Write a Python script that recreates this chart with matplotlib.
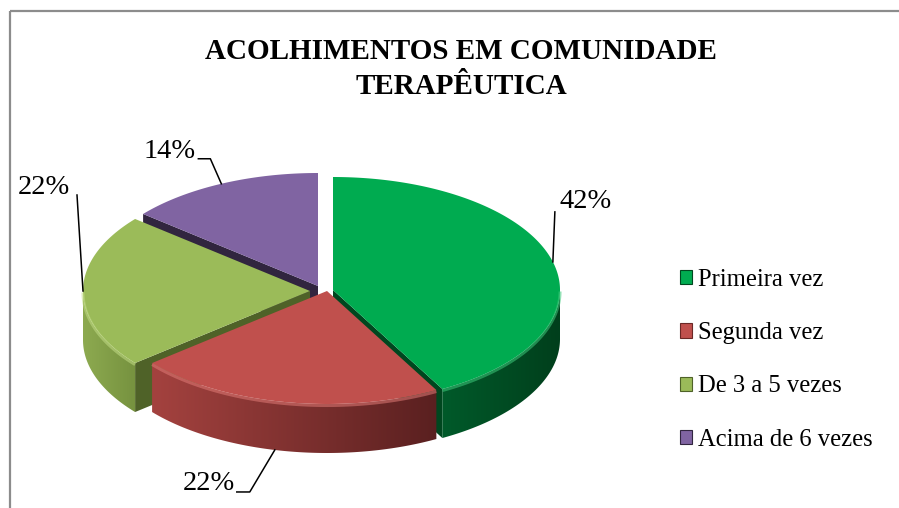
import numpy as np
import matplotlib
matplotlib.use('Agg')
import matplotlib.pyplot as plt
import matplotlib.colors as mcolors
from matplotlib.patches import Polygon, Rectangle

plt.rcParams['font.family'] = ['Liberation Serif', 'DejaVu Serif']

# ── data ────────────────────────────────────────────────────────────────────
title = 'ACOLHIMENTOS EM COMUNIDADE\nTERAPÊUTICA'
categories = ['Primeira vez', 'Segunda vez', 'De 3 a 5 vezes', 'Acima de 6 vezes']
shares = [42, 22, 22, 14]
pct_labels = ['42%', '22%', '22%', '14%']

# ── style ───────────────────────────────────────────────────────────────────
top_colors = ['#00AB50', '#C0504D', '#9BBB59', '#8064A2']
side_colors = [('#005A2A', '#003F1C'), ('#A4423F', '#5A2020'),
               ('#8DAA50', '#76923F'), ('#5E4A78', '#3F3152')]
cut_colors = ['#00471F', '#6B2826', '#4F6228', '#31253F']
rim_colors = ['#3CC97A', '#E07A76', '#C2DC86', '#A48CC4']

W, H = 899, 508
CX, CY = 318, 290          # pie centre (pixels)
RX, RY = 227, 113          # projected ellipse radii
DEPTH = 49                 # thickness of the pie
EXPLODE = [(15, 0), (9, 1), (-8, 1), (0, -4)]   # per-slice shift (px)
DRAW_ORDER = [3, 0, 2, 1]  # back to front


def rim(theta_deg, cx, cy, dz=0.0):
    t = np.radians(theta_deg)
    return np.column_stack([cx + RX * np.cos(t), cy - RY * np.sin(t) + dz])


def grad_fill(ax, verts, c1, c2, z):
    poly = Polygon(verts, closed=True, facecolor='none', edgecolor='none', zorder=z)
    ax.add_patch(poly)
    cmap = mcolors.LinearSegmentedColormap.from_list('g', [c1, c2])
    g = np.linspace(0, 1, 256).reshape(1, -1)
    im = ax.imshow(g, cmap=cmap, aspect='auto', interpolation='bilinear', zorder=z,
                   extent=(verts[:, 0].min(), verts[:, 0].max(),
                           verts[:, 1].max(), verts[:, 1].min()))
    im.set_clip_path(poly)


fig = plt.figure(figsize=(W / 100, H / 100), dpi=100)
ax = fig.add_axes([0, 0, 1, 1])

fracs = np.array(shares, dtype=float) / sum(shares)
starts = 90 - 360 * np.concatenate([[0], np.cumsum(fracs)[:-1]])
ends = starts - 360 * fracs

for rank, i in enumerate(DRAW_ORDER):
    a, b = starts[i], ends[i]
    cx, cy = CX + EXPLODE[i][0], CY + EXPLODE[i][1]
    z = 2 + rank * 3
    apex = np.array([[cx, cy]])

    # radial cut faces facing the viewer
    for edge, normal in [(a, a + 90), (b, b - 90)]:
        if np.sin(np.radians(normal)) < -1e-6:
            p = rim([edge], cx, cy)
            verts = np.vstack([apex, p, p + [0, DEPTH], apex + [0, DEPTH]])
            ax.add_patch(Polygon(verts, closed=True, facecolor=cut_colors[i],
                                 edgecolor='none', zorder=z))

    # outer wall (front half only)
    lo, hi = max(b, -180), min(a, 0)
    if lo < hi:
        t = np.linspace(hi, lo, 120)
        verts = np.vstack([rim(t, cx, cy), rim(t[::-1], cx, cy, DEPTH)])
        grad_fill(ax, verts, side_colors[i][0], side_colors[i][1], z + 0.5)

    # top face
    t = np.linspace(a, b, 200)
    ax.add_patch(Polygon(np.vstack([apex, rim(t, cx, cy)]), closed=True,
                         facecolor=top_colors[i], edgecolor='none', zorder=z + 1))
    if lo < hi:
        t = np.linspace(hi, lo, 120)
        r = rim(t, cx, cy, 1.5)
        ax.plot(r[:, 0], r[:, 1], color=rim_colors[i], lw=2.2, alpha=0.55,
                zorder=z + 1.2, solid_capstyle='butt')

# ── percentage labels with leader lines ─────────────────────────────────────
# (slice, angle tweak, anchor depth, elbow offsets, text offset, ha)
label_layout = [
    (0, 0,    0,     [(2, -50)],              (5, -10), 'left'),
    (1, -2.5, DEPTH, [(-25, 42), (-38, 42)],  (-2, -8), 'right'),
    (2, 0,    0,     [(-6, -96)],             (-7, -8), 'right'),
    (3, 0,    0,     [(-11, -25), (-23, -25)], (-3, -7), 'right'),
]
for i, dang, dz, elbows, toff, ha in label_layout:
    mid = (starts[i] + ends[i]) / 2 + dang
    cx, cy = CX + EXPLODE[i][0], CY + EXPLODE[i][1]
    p0 = rim([mid], cx, cy, dz)[0]
    pts = np.vstack([p0] + [p0 + np.array(e) for e in elbows])
    ax.plot(pts[:, 0], pts[:, 1], color='black', lw=1.1, zorder=30)
    end = pts[-1]
    ax.text(end[0] + toff[0], end[1] + toff[1], pct_labels[i], fontsize=20.5,
            ha=ha, va='center', zorder=31)

# ── title ───────────────────────────────────────────────────────────────────
ax.text(461, 69, title, fontsize=21, fontweight='bold', ha='center',
        va='center', linespacing=1.34)

# ── legend ──────────────────────────────────────────────────────────────────
handles = [Rectangle((0, 0), 1, 1, facecolor=top_colors[k],
                     edgecolor=cut_colors[k], lw=0.8) for k in range(4)]
ax.legend(handles, categories, loc='upper left',
          bbox_to_anchor=(680 / W, 1 - 269 / H), frameon=False, fontsize=17.7,
          handlelength=0.5, handleheight=0.5, handletextpad=0.25,
          labelspacing=1.27, borderpad=0, borderaxespad=0)

# chart-area border (only top/left visible in crop)
ax.add_patch(Rectangle((9.5, 10.5), 2000, 2000, fill=False,
                       edgecolor='#8C8C8C', lw=1.6, zorder=40))

ax.set_xlim(0, W)
ax.set_ylim(H, 0)
ax.axis('off')
fig.savefig('out.png', dpi=100)
